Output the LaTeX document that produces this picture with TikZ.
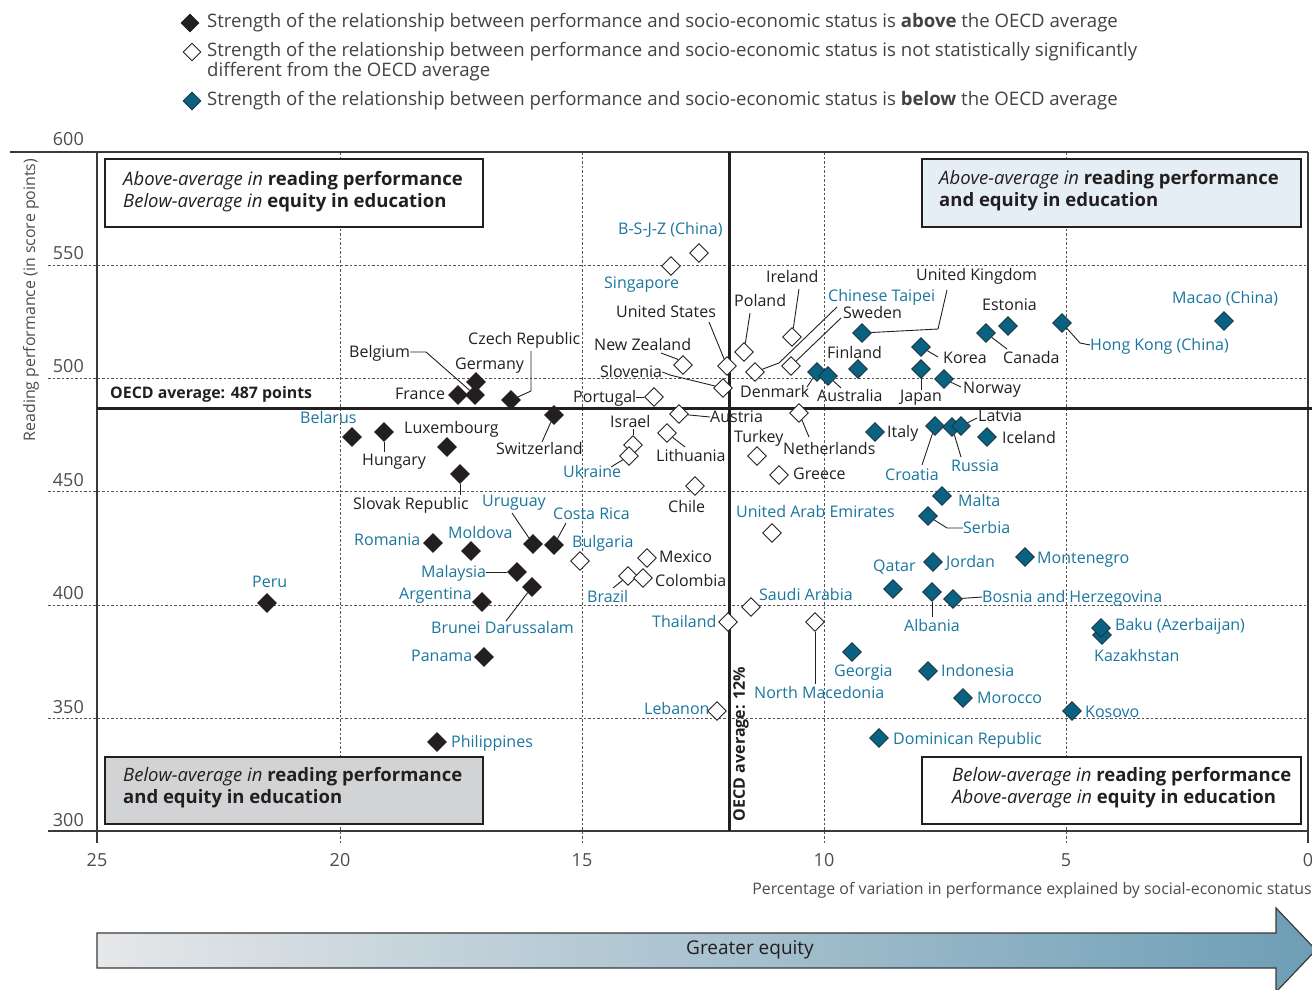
\documentclass[tikz,border=0pt]{standalone}
\usepackage{fontspec}
\setmainfont{Open Sans}
\usetikzlibrary{shapes.geometric}
\definecolor{dk}{HTML}{231F20}
\definecolor{tlab}{HTML}{1A769E}
\definecolor{tfill}{HTML}{0A6282}
\definecolor{gridc}{HTML}{555555}
\definecolor{frm}{HTML}{3A3A3A}
\definecolor{boxblue}{HTML}{E4EEF4}
\definecolor{boxgrey}{HTML}{D1D3D4}
\definecolor{arrL}{HTML}{E6E7E9}
\definecolor{arrR}{HTML}{6D9EB6}
\definecolor{axc}{HTML}{4D4D4D}
\newcommand\lf{\fontsize{16}{19}\selectfont}
\newcommand\legf{\fontsize{18.6}{20}\selectfont}
\newcommand\qf{\fontsize{18.5}{22}\selectfont}
\newcommand\tf{\fontsize{18}{22}\selectfont}
\newcommand\af{\fontsize{15.9}{18}\selectfont}
\begin{document}
\begin{tikzpicture}[x=1pt,y=-1pt,
 dia/.style={shape=diamond,minimum width=19pt,minimum height=19pt,inner sep=0pt,line width=0.9pt,draw=dk},
 blk/.style={dia,fill=dk},
 wht/.style={dia,fill=white},
 tea/.style={dia,fill=tfill,draw=dk!70!tfill},
 lab/.style={font=\lf,text=dk,inner sep=0pt,anchor=west,text height=13pt,text depth=3pt},
 tlb/.style={lab,text=tlab},
 ld/.style={draw=dk,line width=0.9pt},
 gridl/.style={draw=gridc,line width=0.8pt,dash pattern=on 2.5pt off 2pt},
 frame/.style={draw=frm,line width=1.2pt},
 qbox/.style={draw=dk,line width=1.2pt},
 qt/.style={font=\qf,text=dk,inner sep=0pt,anchor=west,align=left},
 tick/.style={font=\tf,text=axc,inner sep=0pt},
 legt/.style={font=\legf,text=dk!85,inner sep=0pt,anchor=west,align=left,text height=13pt,text depth=4pt},
 ]
\useasboundingbox (0,0) rectangle (1312,990);
% legend
\node[blk,minimum width=18pt,minimum height=18pt] (lg1) at (190,23) {};
\node[legt] (lt1) at (207,23) {Strength of the relationship between performance and socio-economic status is \textbf{above} the OECD average};
\node[wht,minimum width=18pt,minimum height=18pt] (lg2) at (192,52) {};
\node[legt,text height=,text depth=] (lt2) at (207,62) {Strength of the relationship between performance and socio-economic status is not statistically significantly\\different from the OECD average};
\node[tea,minimum width=18pt,minimum height=18pt] (lg3) at (192,101) {};
\node[legt] (lt3) at (207,101) {Strength of the relationship between performance and socio-economic status is \textbf{below} the OECD average};
% grid
\foreach \yy in {265,378,491,605,718} \draw[gridl] (48,\yy) -- (1308,\yy);
\foreach \xx in {340,582,824,1066} \draw[gridl] (\xx,152) -- (\xx,843);
% frame
\draw[frame] (10,152) -- (1308,152);
\draw[frame] (97,152) -- (97,843);
\draw[frame] (1308,152) -- (1308,843);
\draw[frame] (48,831) -- (1308,831);
% ticks
\node[tick,anchor=east] (y600) at (84,139) {600};
\node[tick,anchor=east] (y550) at (84,253) {550};
\node[tick,anchor=east] (y500) at (84,366) {500};
\node[tick,anchor=east] (y450) at (84,480) {450};
\node[tick,anchor=east] (y400) at (84,593) {400};
\node[tick,anchor=east] (y350) at (84,707) {350};
\node[tick,anchor=east] (y300) at (84,820) {300};
\node[tick] (x25) at (97,860) {25};
\node[tick] (x20) at (340,860) {20};
\node[tick] (x15) at (582,860) {15};
\node[tick] (x10) at (824,860) {10};
\node[tick] (x5) at (1066,860) {5};
\node[tick] (x0) at (1308,860) {0};
\node[font=\af,text=axc,rotate=90,inner sep=0pt] (ytitle) at (31,300) {Reading performance (in score points)};
\node[font=\af,text=axc,anchor=east,inner sep=0pt] (xtitle) at (1312,890) {Percentage of variation in performance explained by social-economic status};
% quadrant boxes
\draw[qbox,fill=white] (105,159) rectangle (483,227);
\node[qt] (qtl) at (123,192) {\textit{Above-average in} \textbf{reading performance}\\\textit{Below-average in} \textbf{equity in education}};
\draw[qbox,fill=boxblue] (922,159) rectangle (1301,227);
\node[qt] (qtr) at (939,191) {\textit{Above-average in} \textbf{reading performance}\\\textbf{and equity in education}};
\draw[qbox,fill=boxgrey] (105,757) rectangle (483,824);
\node[qt] (qbl) at (123,788) {\textit{Below-average in} \textbf{reading performance}\\\textbf{and equity in education}};
\draw[qbox,fill=white] (922,757) rectangle (1301,824);
\node[qt] (qbr) at (952,788) {\textit{Below-average in} \textbf{reading performance}\\\textit{Above-average in} \textbf{equity in education}};
% OECD lines
\draw[dk,line width=3pt] (97,408) -- (1312,408);
\draw[dk,line width=3pt] (729.5,152) -- (729.5,831);
\node[font=\fontsize{15.9}{19}\selectfont\bfseries,text=dk,anchor=west,inner sep=0pt] (oecdh) at (110,394) {OECD average: 487 points};
\node[font=\fontsize{16}{19}\selectfont\bfseries,text=dk,rotate=90,inner sep=0pt] (oecdv) at (741,744) {OECD average: 12\%};
% arrow
\shadedraw[left color=arrL,right color=arrR,draw=frm,line width=1.2pt] (97,933) -- (1276,933) -- (1276,908) -- (1316,950) -- (1276,992) -- (1276,968) -- (97,968) -- cycle;
\node[font=\fontsize{19}{22}\selectfont,text=dk,inner sep=0pt] (arrlab) at (750,950) {Greater equity};
% diamonds: black
\node[blk] (FRA) at (458,395) {};
\node[blk] (BEL) at (475,395) {};
\node[blk] (DEU) at (476,382) {};
\node[blk] (CZE) at (511,400) {};
\node[blk] (CHE) at (554,415) {};
\node[blk] (BLR) at (352,437) {};
\node[blk] (HUN) at (384,432) {};
\node[blk] (LUX) at (447,447) {};
\node[blk] (SVK) at (460,474) {};
\node[blk] (URY) at (533,544) {};
\node[blk] (CRI) at (554,545) {};
\node[blk] (ROU) at (433,543) {};
\node[blk] (MDA) at (471,551) {};
\node[blk] (MYS) at (517,572) {};
\node[blk] (BRN) at (532,587) {};
\node[blk] (ARG) at (482,602) {};
\node[blk] (PER) at (267,603) {};
\node[blk] (PAN) at (484,657) {};
\node[blk] (PHL) at (437,742) {};
% white
\node[wht] (BSJZ) at (699,253) {};
\node[wht] (SGP) at (671,266) {};
\node[wht] (USA) at (727,366) {};
\node[wht] (NZL) at (683,365) {};
\node[wht] (SVN) at (723,388) {};
\node[wht] (PRT) at (654,397) {};
\node[wht] (AUT) at (679,414) {};
\node[wht] (ISR) at (633,445) {};
\node[wht] (UKR) at (629,456) {};
\node[wht] (LTU) at (667,433) {};
\node[wht] (CHL) at (695,486) {};
\node[wht] (POL) at (744,352) {};
\node[wht] (IRL) at (792,337) {};
\node[wht] (TAP) at (755,372) {};
\node[wht] (SWE) at (791,366) {};
\node[wht] (NLD) at (799,413) {};
\node[wht] (TUR) at (757,456) {};
\node[wht] (GRC) at (779,475) {};
\node[wht] (ARE) at (772,533) {};
\node[wht] (SAU) at (751,607) {};
\node[wht] (THA) at (728,622) {};
\node[wht] (MKD) at (815,622) {};
\node[wht] (LBN) at (717,711) {};
\node[wht] (MEX) at (647,558) {};
\node[wht] (BRA) at (628,576) {};
\node[wht] (COL) at (643,578) {};
\node[wht] (BGR) at (580,561) {};
% teal
\node[tea] (DNK) at (817,372) {};
\node[tea] (AUS) at (828,376) {};
\node[tea] (FIN) at (858,369) {};
\node[tea] (GBR) at (862,333) {};
\node[tea] (EST) at (1008,326) {};
\node[tea] (CAN) at (986,333) {};
\node[tea] (KOR) at (921,347) {};
\node[tea] (JPN) at (921,369) {};
\node[tea] (NOR) at (944,379) {};
\node[tea] (ITA) at (875,432) {};
\node[tea] (HRV) at (935,426) {};
\node[tea] (RUS) at (952,427) {};
\node[tea] (LVA) at (961,426) {};
\node[tea] (ISL) at (987,437) {};
\node[tea] (MLT) at (942,496) {};
\node[tea] (SRB) at (928,516) {};
\node[tea] (JOR) at (933,562) {};
\node[tea] (MNE) at (1025,557) {};
\node[tea] (QAT) at (893,589) {};
\node[tea] (ALB) at (932,592) {};
\node[tea] (BIH) at (953,599) {};
\node[tea] (GEO) at (852,652) {};
\node[tea] (IDN) at (928,671) {};
\node[tea] (MAR) at (963,698) {};
\node[tea] (XKX) at (1072,711) {};
\node[tea] (DOM) at (879,738) {};
\node[tea] (KAZ) at (1102,635) {};
\node[tea] (AZE) at (1101,628) {};
\node[tea] (MAC) at (1224,321) {};
\node[tea] (HKG) at (1062,323) {};
% labels black
\node[lab] (lBEL) at (349,352) {Belgium};
\node[lab] (lFRA) at (395,394) {France};
\node[lab] (lDEU) at (455,364) {Germany};
\node[lab] (lCZE) at (468,339) {Czech Republic};
\node[lab] (lCHE) at (496,449) {Switzerland};
\node[lab] (lLUX) at (404,428) {Luxembourg};
\node[lab] (lHUN) at (362,460) {Hungary};
\node[lab] (lSVK) at (353,504) {Slovak Republic};
\node[lab] (lUSA) at (616,312) {United States};
\node[lab] (lNZL) at (594,345) {New Zealand};
\node[lab] (lSVN) at (600,372) {Slovenia};
\node[lab] (lPRT) at (573,397) {Portugal};
\node[lab] (lAUT) at (710,417) {Austria};
\node[lab] (lISR) at (610,422) {Israel};
\node[lab] (lLTU) at (656,456) {Lithuania};
\node[lab] (lCHL) at (668,507) {Chile};
\node[lab] (lPOL) at (734,301) {Poland};
\node[lab] (lIRL) at (766,277) {Ireland};
\node[lab] (lSWE) at (843,313) {Sweden};
\node[lab] (lDNK) at (740,392) {Denmark};
\node[lab] (lAUS) at (817,396) {Australia};
\node[lab] (lFIN) at (827,353) {Finland};
\node[lab] (lGBR) at (916,275) {United Kingdom};
\node[lab] (lEST) at (982,305) {Estonia};
\node[lab] (lCAN) at (1003,358) {Canada};
\node[lab] (lKOR) at (943,358) {Korea};
\node[lab] (lJPN) at (900,396) {Japan};
\node[lab] (lNOR) at (963,388) {Norway};
\node[lab] (lNLD) at (783,449) {Netherlands};
\node[lab] (lTUR) at (734,437) {Turkey};
\node[lab] (lGRC) at (793,474) {Greece};
\node[lab] (lITA) at (887,432) {Italy};
\node[lab] (lLVA) at (978,416) {Latvia};
\node[lab] (lISL) at (1002,438) {Iceland};
\node[lab] (lMEX) at (659,557) {Mexico};
\node[lab] (lCOL) at (655,581) {Colombia};
% labels teal
\node[tlb] (lBLR) at (300,418) {Belarus};
\node[tlb] (lURY) at (482,501) {Uruguay};
\node[tlb] (lCRI) at (553,514) {Costa Rica};
\node[tlb] (lROU) at (354,540) {Romania};
\node[tlb] (lMDA) at (448,533) {Moldova};
\node[tlb] (lMYS) at (421,572) {Malaysia};
\node[tlb] (lBRN) at (431,628) {Brunei Darussalam};
\node[tlb] (lARG) at (399,594) {Argentina};
\node[tlb] (lPER) at (252,582) {Peru};
\node[tlb] (lPAN) at (411,656) {Panama};
\node[tlb] (lPHL) at (451,742) {Philippines};
\node[tlb] (lBSJZ) at (618,229) {B-S-J-Z (China)};
\node[tlb] (lSGP) at (604,283) {Singapore};
\node[tlb] (lUKR) at (563,472) {Ukraine};
\node[tlb] (lTAP) at (828,296) {Chinese Taipei};
\node[tlb] (lHRV) at (885,475) {Croatia};
\node[tlb] (lRUS) at (951,466) {Russia};
\node[tlb] (lMLT) at (958,501) {Malta};
\node[tlb] (lSRB) at (963,528) {Serbia};
\node[tlb] (lARE) at (736,512) {United Arab Emirates};
\node[tlb] (lJOR) at (946,562) {Jordan};
\node[tlb] (lMNE) at (1037,558) {Montenegro};
\node[tlb] (lQAT) at (873,566) {Qatar};
\node[tlb] (lALB) at (904,626) {Albania};
\node[tlb] (lBIH) at (982,597) {Bosnia and Herzegovina};
\node[tlb] (lSAU) at (759,595) {Saudi Arabia};
\node[tlb] (lTHA) at (652,622) {Thailand};
\node[tlb] (lMKD) at (754,693) {North Macedonia};
\node[tlb] (lGEO) at (834,671) {Georgia};
\node[tlb] (lLBN) at (644,709) {Lebanon};
\node[tlb] (lBRA) at (587,597) {Brazil};
\node[tlb] (lBGR) at (572,542) {Bulgaria};
\node[tlb] (lIDN) at (941,671) {Indonesia};
\node[tlb] (lMAR) at (977,698) {Morocco};
\node[tlb] (lXKX) at (1085,712) {Kosovo};
\node[tlb] (lDOM) at (893,739) {Dominican Republic};
\node[tlb] (lAZE) at (1115,625) {Baku (Azerbaijan)};
\node[tlb] (lKAZ) at (1094,656) {Kazakhstan};
\node[tlb] (lMAC) at (1172,298) {Macao (China)};
\node[tlb] (lHKG) at (1090,345) {Hong Kong (China)};
% leaders
\draw[ld] (lBEL.east) -- (426,352) -- (BEL);
\draw[ld] (531,351) -- (531,391) -- (CZE);
\draw[ld] (CHE) -- (542,442);
\draw[ld] (HUN) -- (384,452);
\draw[ld] (SVK) -- (460,495);
\draw[ld] (512,513) -- (URY);
\draw[ld] (566,523) -- (CRI);
\draw[ld] (lMYS.east) -- (MYS);
\draw[ld] (BRN) -- (506,621);
\draw[ld] (709,322) -- (USA);
\draw[ld] (661,353) -- (677,359) -- (NZL);
\draw[ld] (lSVN.east) -- (670,375) -- (SVN);
\draw[ld] (lPRT.east) -- (PRT);
\draw[ld] (AUT) -- (lAUT.west);
\draw[ld] (633,429) -- (ISR);
\draw[ld] (611,467) -- (UKR);
\draw[ld] (LTU) -- (685,447);
\draw[ld] (750,313) -- (POL);
\draw[ld] (799,289) -- (IRL);
\draw[ld] (837,307) -- (779,363) -- (TAP);
\draw[ld] (841,318) -- (SWE);
\draw[ld] (807,387) -- (DNK);
\draw[ld] (841,388) -- (AUS);
\draw[ld] (947,290) -- (938,329) -- (GBR);
\draw[ld] (CAN) -- (1007,349);
\draw[ld] (KOR) -- (938,357);
\draw[ld] (JPN) -- (921,390);
\draw[ld] (NOR) -- (961,387);
\draw[ld] (NLD) -- (809,437);
\draw[ld] (HRV) -- (922,465);
\draw[ld] (RUS) -- (961,457);
\draw[ld] (LVA) -- (977,418);
\draw[ld] (SRB) -- (947,528) -- (lSRB.west);
\draw[ld] (ALB) -- (932,617);
\draw[ld] (BIH) -- (lBIH.west);
\draw[ld] (BRA) -- (613,588);
\draw[ld] (MKD) -- (815,684);
\draw[ld] (HKG) -- (1080,343) -- (lHKG.west);
\end{tikzpicture}
\end{document}
